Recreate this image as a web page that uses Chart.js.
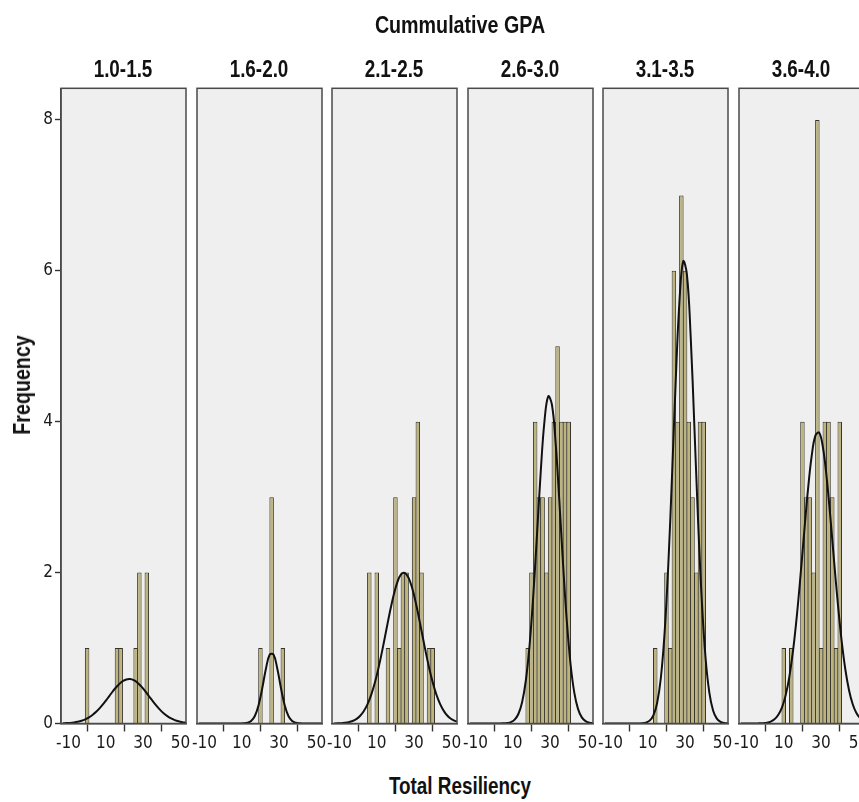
<!DOCTYPE html>
<html>
<head>
<meta charset="utf-8">
<title>Total Resiliency by Cummulative GPA</title>
<script src="https://cdn.jsdelivr.net/npm/chart.js@4.4.1/dist/chart.umd.min.js"></script>
<style>
  html, body { margin:0; padding:0; background:#fff; }
  #wrap { position:relative; width:859px; height:802px; overflow:hidden; }
  #wrap canvas { position:absolute; }
  .lbl {
    position:absolute; white-space:nowrap; color:#111; font-weight:bold;
    font-family:'Liberation Sans', Arial, sans-serif;
    transform:translate(-50%,-50%) scaleX(0.82);
  }
</style>
</head>
<body>
<div id="wrap"></div>
<script>
/* ---- data ---- */
const groupTitle = 'Cummulative GPA';
const groups = ['1.0-1.5', '1.6-2.0', '2.1-2.5', '2.6-3.0', '3.1-3.5', '3.6-4.0'];
const xTitle = 'Total Resiliency';
const yTitle = 'Frequency';

const xTicks = [-10, 10, 30, 50];
const yTicks = [0, 2, 4, 6, 8];

// histogram bins (centre of each 2-point bin)
const binCenters = [0, 2, 4, 6, 8, 10, 12, 14, 16, 18, 20, 22, 24, 26, 28, 30, 32, 34, 36, 38, 40];
const counts10 = [1,0,0,0,0,0,0,0,1,1,0,0,0,1,2,0,2,0,0,0,0];
const counts16 = [0,0,0,0,0,0,0,0,0,0,1,0,0,3,0,0,1,0,0,0,0];
const counts21 = [0,0,0,2,0,2,0,0,1,0,3,1,2,2,0,3,4,2,0,1,1];
const counts26 = [0,0,0,0,0,0,0,0,0,1,2,4,3,3,2,3,4,5,4,4,4];
const counts31 = [0,0,0,0,0,0,0,1,0,0,2,1,6,4,7,6,4,3,2,4,4];
const counts36 = [0,0,0,0,0,1,0,1,0,0,4,3,3,2,8,1,4,4,3,1,4];

// normal curve heights read at these x positions
const curveX = [-13,-11,-9,-7,-5,-3,-1,1,3,5,7,9,11,13,15,17,19,21,23,25,27,29,31,33,35,37,39,41,43,45,47,49,51,53];
const curve10 = [0.003,0.005,0.008,0.014,0.023,0.036,0.055,0.081,0.116,0.159,0.211,0.270,0.335,0.401,0.464,0.518,0.560,0.584,0.589,0.574,0.541,0.492,0.433,0.368,0.302,0.240,0.184,0.136,0.097,0.067,0.045,0.029,0.018,0.011];
const curve16 = [0,0,0,0,0,0,0,0,0,0,0,0,0.002,0.009,0.033,0.100,0.242,0.470,0.733,0.914,0.914,0.733,0.470,0.242,0.100,0.033,0.009,0.002,0,0,0,0,0,0];
const curve21 = [0.001,0.002,0.005,0.009,0.018,0.033,0.059,0.100,0.163,0.254,0.380,0.543,0.744,0.976,1.226,1.474,1.697,1.871,1.976,1.997,1.933,1.792,1.590,1.351,1.100,0.857,0.639,0.457,0.312,0.205,0.128,0.077,0.044,0.024];
const curve26 = [0,0,0,0,0,0,0,0,0,0.002,0.006,0.018,0.051,0.126,0.282,0.570,1.037,1.700,2.511,3.343,4.010,4.336,4.225,3.709,2.935,2.093,1.345,0.779,0.406,0.191,0.081,0.031,0.011,0.003];
const curve31 = [0,0,0,0,0,0,0,0,0,0.001,0.003,0.012,0.038,0.108,0.270,0.603,1.194,2.101,3.282,4.552,5.605,6.127,5.948,5.126,3.923,2.665,1.608,0.862,0.410,0.173,0.065,0.022,0.006,0.002];
const curve36 = [0,0,0,0,0.001,0.002,0.005,0.011,0.026,0.056,0.112,0.211,0.373,0.622,0.972,1.427,1.969,2.552,3.107,3.554,3.819,3.855,3.656,3.257,2.725,2.142,1.582,1.098,0.716,0.438,0.252,0.136,0.069,0.033];

const allCounts = [counts10, counts16, counts21, counts26, counts31, counts36];
const allCurves = [curve10, curve16, curve21, curve26, curve31, curve36];

/* ---- layout ---- */
const TICK_FONT = "'DejaVu Sans Condensed','Liberation Sans Narrow',sans-serif";
const PANEL_X0 = 61, PANEL_STEP = 135.5, PANEL_W = 124.7;
const CANVAS_TOP = 80, CANVAS_H = 680;
const PLOT_TOP = 88.3, PLOT_BOTTOM = 723.5;
const SIDE_PAD = 14, YAXIS_W = 35;

Chart.defaults.font.family = TICK_FONT;
Chart.defaults.color = '#1a1a1a';

const wrap = document.getElementById('wrap');

function addLabel(text, x, y, size, rotate) {
  const d = document.createElement('div');
  d.className = 'lbl';
  d.textContent = text;
  d.style.left = x + 'px';
  d.style.top = y + 'px';
  d.style.fontSize = size + 'px';
  if (rotate) d.style.transform = 'translate(-50%,-50%) rotate(-90deg) scaleX(0.82)';
  wrap.appendChild(d);
}

// grey panel fill + dark frame
const panelBox = {
  id: 'panelBox',
  beforeDraw(chart) {
    const { ctx, chartArea: a } = chart;
    ctx.save();
    ctx.fillStyle = '#efefef';
    ctx.fillRect(a.left, a.top, a.right - a.left, a.bottom - a.top);
    ctx.restore();
  },
  afterDatasetsDraw(chart) {
    const { ctx, chartArea: a } = chart;
    ctx.save();
    ctx.strokeStyle = '#4a4a4a';
    ctx.lineWidth = 1.5;
    ctx.strokeRect(a.left, a.top, a.right - a.left, a.bottom - a.top);
    ctx.restore();
  }
};

function makePanel(i) {
  const left = PANEL_X0 + i * PANEL_STEP;
  const first = i === 0;
  const cLeft = first ? left - YAXIS_W : left - SIDE_PAD;
  const cWidth = Math.round(left + PANEL_W + SIDE_PAD - cLeft);

  const canvas = document.createElement('canvas');
  canvas.width = cWidth;
  canvas.height = CANVAS_H;
  canvas.style.left = cLeft + 'px';
  canvas.style.top = CANVAS_TOP + 'px';
  canvas.style.width = cWidth + 'px';
  canvas.style.height = CANVAS_H + 'px';
  wrap.appendChild(canvas);

  const counts = allCounts[i], curve = allCurves[i];

  new Chart(canvas, {
    type: 'bar',
    data: {
      datasets: [
        { type: 'line', order: 0,
          data: curveX.map((x, k) => ({ x, y: curve[k] })),
          borderColor: '#111', borderWidth: 2, pointRadius: 0, tension: 0.4, fill: false },
        { type: 'bar', order: 1,
          data: binCenters.map((x, k) => ({ x, y: counts[k] ? counts[k] : null })),
          backgroundColor: '#bcb37f', borderColor: '#35332a', borderWidth: 1,
          inflateAmount: 0, barPercentage: 1.2, categoryPercentage: 1 }
      ]
    },
    options: {
      responsive: false, animation: false, devicePixelRatio: 1,
      layout: { padding: { left: first ? 0 : SIDE_PAD, right: SIDE_PAD, top: PLOT_TOP - CANVAS_TOP, bottom: 0 } },
      plugins: { legend: { display: false }, tooltip: { enabled: false } },
      scales: {
        x: {
          type: 'linear', min: -14, max: 53, offset: false,
          afterBuildTicks: s => { s.ticks = xTicks.map(v => ({ value: v })); },
          afterFit: s => {
            s.height = CANVAS_H - (PLOT_BOTTOM - CANVAS_TOP);
            s.paddingLeft = 0; s.paddingRight = 0;
          },
          border: { display: true, color: '#4a4a4a', width: 1.5 },
          grid: { drawOnChartArea: false, drawTicks: true, tickLength: 8, tickWidth: 1.4, tickColor: '#333' },
          ticks: { font: { size: 17 }, padding: 2, maxRotation: 0, autoSkip: false, color: '#1a1a1a' }
        },
        y: {
          display: first, min: 0, max: 8.42,
          afterBuildTicks: s => { s.ticks = yTicks.map(v => ({ value: v })); },
          afterFit: s => {
            if (first) s.width = YAXIS_W;
            s.paddingTop = 0; s.paddingBottom = 0;
          },
          border: { display: true, color: '#4a4a4a', width: 1.5 },
          grid: { drawOnChartArea: false, drawTicks: true, tickLength: 6, tickWidth: 1.4, tickColor: '#333' },
          ticks: { font: { size: 17 }, padding: 2, color: '#1a1a1a' }
        }
      }
    },
    plugins: [panelBox]
  });

  addLabel(groups[i], left + PANEL_W / 2, 69, 23);
}

groups.forEach((g, i) => makePanel(i));
addLabel(groupTitle, 460, 25, 24);
addLabel(xTitle, 460, 786, 23);
addLabel(yTitle, 22, 385, 24, true);
</script>
</body>
</html>
